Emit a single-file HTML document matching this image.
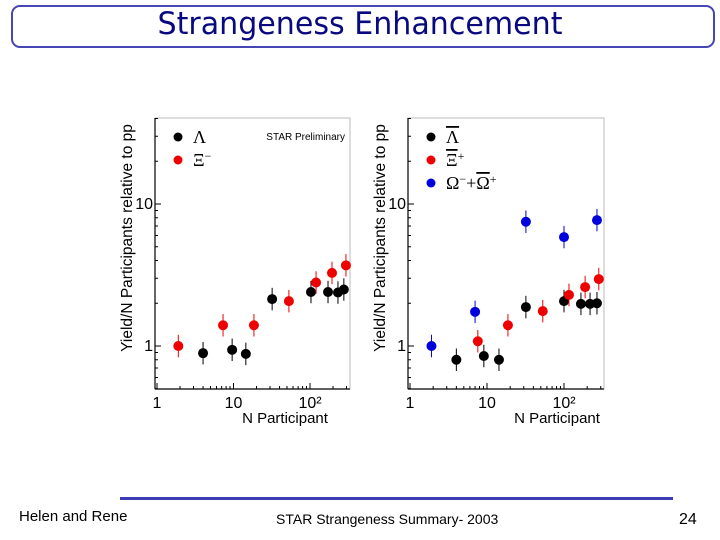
<!DOCTYPE html>
<html><head><meta charset="utf-8"><style>
body{margin:0;width:720px;height:540px;background:#fff;overflow:hidden;position:relative;font-family:"Liberation Sans",sans-serif}
#title-box{position:absolute;left:11px;top:5px;width:700px;height:39px;border:2px solid #4646b4;border-radius:9px}
#title{position:absolute;left:0;top:6px;width:720px;text-align:center;font-size:31px;color:#0a0a80;font-family:"DejaVu Sans","Liberation Sans",sans-serif;letter-spacing:0px;transform:scaleX(0.97);transform-origin:360px 0}
#rule{position:absolute;left:120px;top:497px;width:553px;height:3px;background:#3c3cb4}
.ft{position:absolute;font-size:14px;color:#000}
</style></head><body>
<div id="title-box"></div>
<div id="title">Strangeness Enhancement</div>
<svg id="chart" width="720" height="540" style="position:absolute;left:0;top:0"></svg>
<div id="rule"></div>
<div class="ft" style="left:19px;top:508px;font-size:15px">Helen and Rene</div>
<div class="ft" style="left:276px;top:511px">STAR Strangeness Summary- 2003</div>
<div class="ft" style="left:679px;top:511px;font-size:16px">24</div>
<script>
const leftLambdaN=[4.0,9.6,14.5,32,103,172,232,277];
const leftLambdaY=[0.89,0.94,0.88,2.14,2.4,2.4,2.38,2.5];
const leftXiN=[1.9,7.3,18.5,53,120,194,295];
const leftXiY=[1.0,1.4,1.4,2.07,2.8,3.27,3.7];
const rightLambdaN=[4,9.1,14.3,32,100,166,218,268];
const rightLambdaY=[0.80,0.85,0.80,1.88,2.07,1.98,1.98,2.0];
const rightXiN=[7.6,18.7,53,116,188,283];
const rightXiY=[1.08,1.4,1.76,2.29,2.6,2.96];
const rightOmegaN=[1.9,7,32,100,268];
const rightOmegaY=[1.0,1.74,7.5,5.85,7.7];
const xTickLabels=["1","10","10²"];
const yTickLabels=["1","10"];
const NS="http://www.w3.org/2000/svg";
const svg=document.getElementById('chart');
function mk(t,a,p){const e=document.createElementNS(NS,t);for(const k in a)e.setAttribute(k,a[k]);(p||svg).appendChild(e);return e;}
function panel(cfg){
  const g=mk('g',{});
  
  
  const X=n=>cfg.x1+Math.log10(n)*cfg.dec;
  const Y=v=>346-Math.log10(v)*142;
  const fr=mk('rect',{x:cfg.fl,y:118,width:cfg.fr-cfg.fl,height:271,fill:'none',stroke:'#bbb','stroke-width':1},g);
  
  
  mk('line',{x1:cfg.fl,y1:118,x2:cfg.fl,y2:389,stroke:'#000','stroke-width':1.2},g);
  mk('line',{x1:cfg.fl,y1:389,x2:cfg.fr,y2:389,stroke:'#000','stroke-width':1.2},g);
  for(let d=0;d<3;d++)for(let m=1;m<10;m++){const n=Math.pow(10,d)*m;const x=X(n);if(x>cfg.fr)continue;
    mk('line',{x1:x,y1:389,x2:x,y2:389-(m==1?6:3),stroke:'#000'},g);}
  for(let d=-1;d<2;d++)for(let m=1;m<10;m++){const v=Math.pow(10,d)*m;const y=Y(v);if(y>389||y<118)continue;
    mk('line',{x1:cfg.fl,y1:y,x2:cfg.fl+(m==1?6:3),y2:y,stroke:'#000'},g);}
  xTickLabels.forEach((t,i)=>{const e=mk('text',{x:X(Math.pow(10,i)),y:408,'font-size':16,'text-anchor':'middle'},g);e.textContent=t;
    });
  yTickLabels.forEach((t,i)=>{const e=mk('text',{x:cfg.fl-2,y:Y(Math.pow(10,i))+5,'font-size':16,'text-anchor':'end'},g);e.textContent=t;
    });
  const xt=mk('text',{x:cfg.xtx,y:423,'font-size':15,'text-anchor':'middle'},g);xt.textContent='N Participant';
  
  const yt=mk('text',{x:0,y:0,'font-size':15.5,'text-anchor':'middle',transform:`translate(${cfg.fl-23},238) rotate(-90)`},g);yt.textContent='Yield/N Participants relative to pp';
  
  cfg.series.forEach(s=>{s.n.forEach((n,i)=>{const x=X(n),y=Y(s.y[i]);
    const eb=mk('line',{x1:x,y1:Y(s.y[i]*1.2),x2:x,y2:Y(s.y[i]/1.2),stroke:s.c,'stroke-width':1},g);
    
    const p=mk('circle',{cx:x,cy:y,r:5,fill:s.c},g);
    });});
  cfg.legend.forEach((l,i)=>{const y=137+i*23;
    mk('circle',{cx:cfg.fl+23,cy:y,r:4.5,fill:l.c},g);
    const t=mk('text',{x:cfg.fl+38,y:y+6,'font-size':18,'font-family':'Liberation Serif,serif'},g);t.innerHTML=l.t;
    });
  if(cfg.star){const t=mk('text',{x:cfg.fr-5,y:140,'font-size':10,'text-anchor':'end'},g);t.textContent='STAR Preliminary';
    }
}
panel({name:'left-chart',x1:157,dec:76.5,fl:155,fr:350,xtx:285,star:true,
  series:[{n:leftLambdaN,y:leftLambdaY,c:'#000',k:'lambda'},{n:leftXiN,y:leftXiY,c:'#e00',k:'xi'}],
  legend:[{c:'#000',t:'Λ'},{c:'#e00',t:'Ξ<tspan dy="-6" font-size="12">−</tspan>'}]});
panel({name:'right-chart',x1:410,dec:77,fl:408,fr:604,xtx:557,star:false,
  series:[{n:rightLambdaN,y:rightLambdaY,c:'#000',k:'antilambda'},{n:rightXiN,y:rightXiY,c:'#e00',k:'antixi'},{n:rightOmegaN,y:rightOmegaY,c:'#00d',k:'omega'}],
  legend:[{c:'#000',t:'<tspan text-decoration="overline">Λ</tspan>'},{c:'#e00',t:'<tspan text-decoration="overline">Ξ</tspan><tspan dy="-6" font-size="12">+</tspan>'},{c:'#00d',t:'Ω<tspan dy="-6" font-size="12">−</tspan><tspan dy="6">+</tspan><tspan text-decoration="overline">Ω</tspan><tspan dy="-6" font-size="12">+</tspan>'}]});
</script>
</body></html>
